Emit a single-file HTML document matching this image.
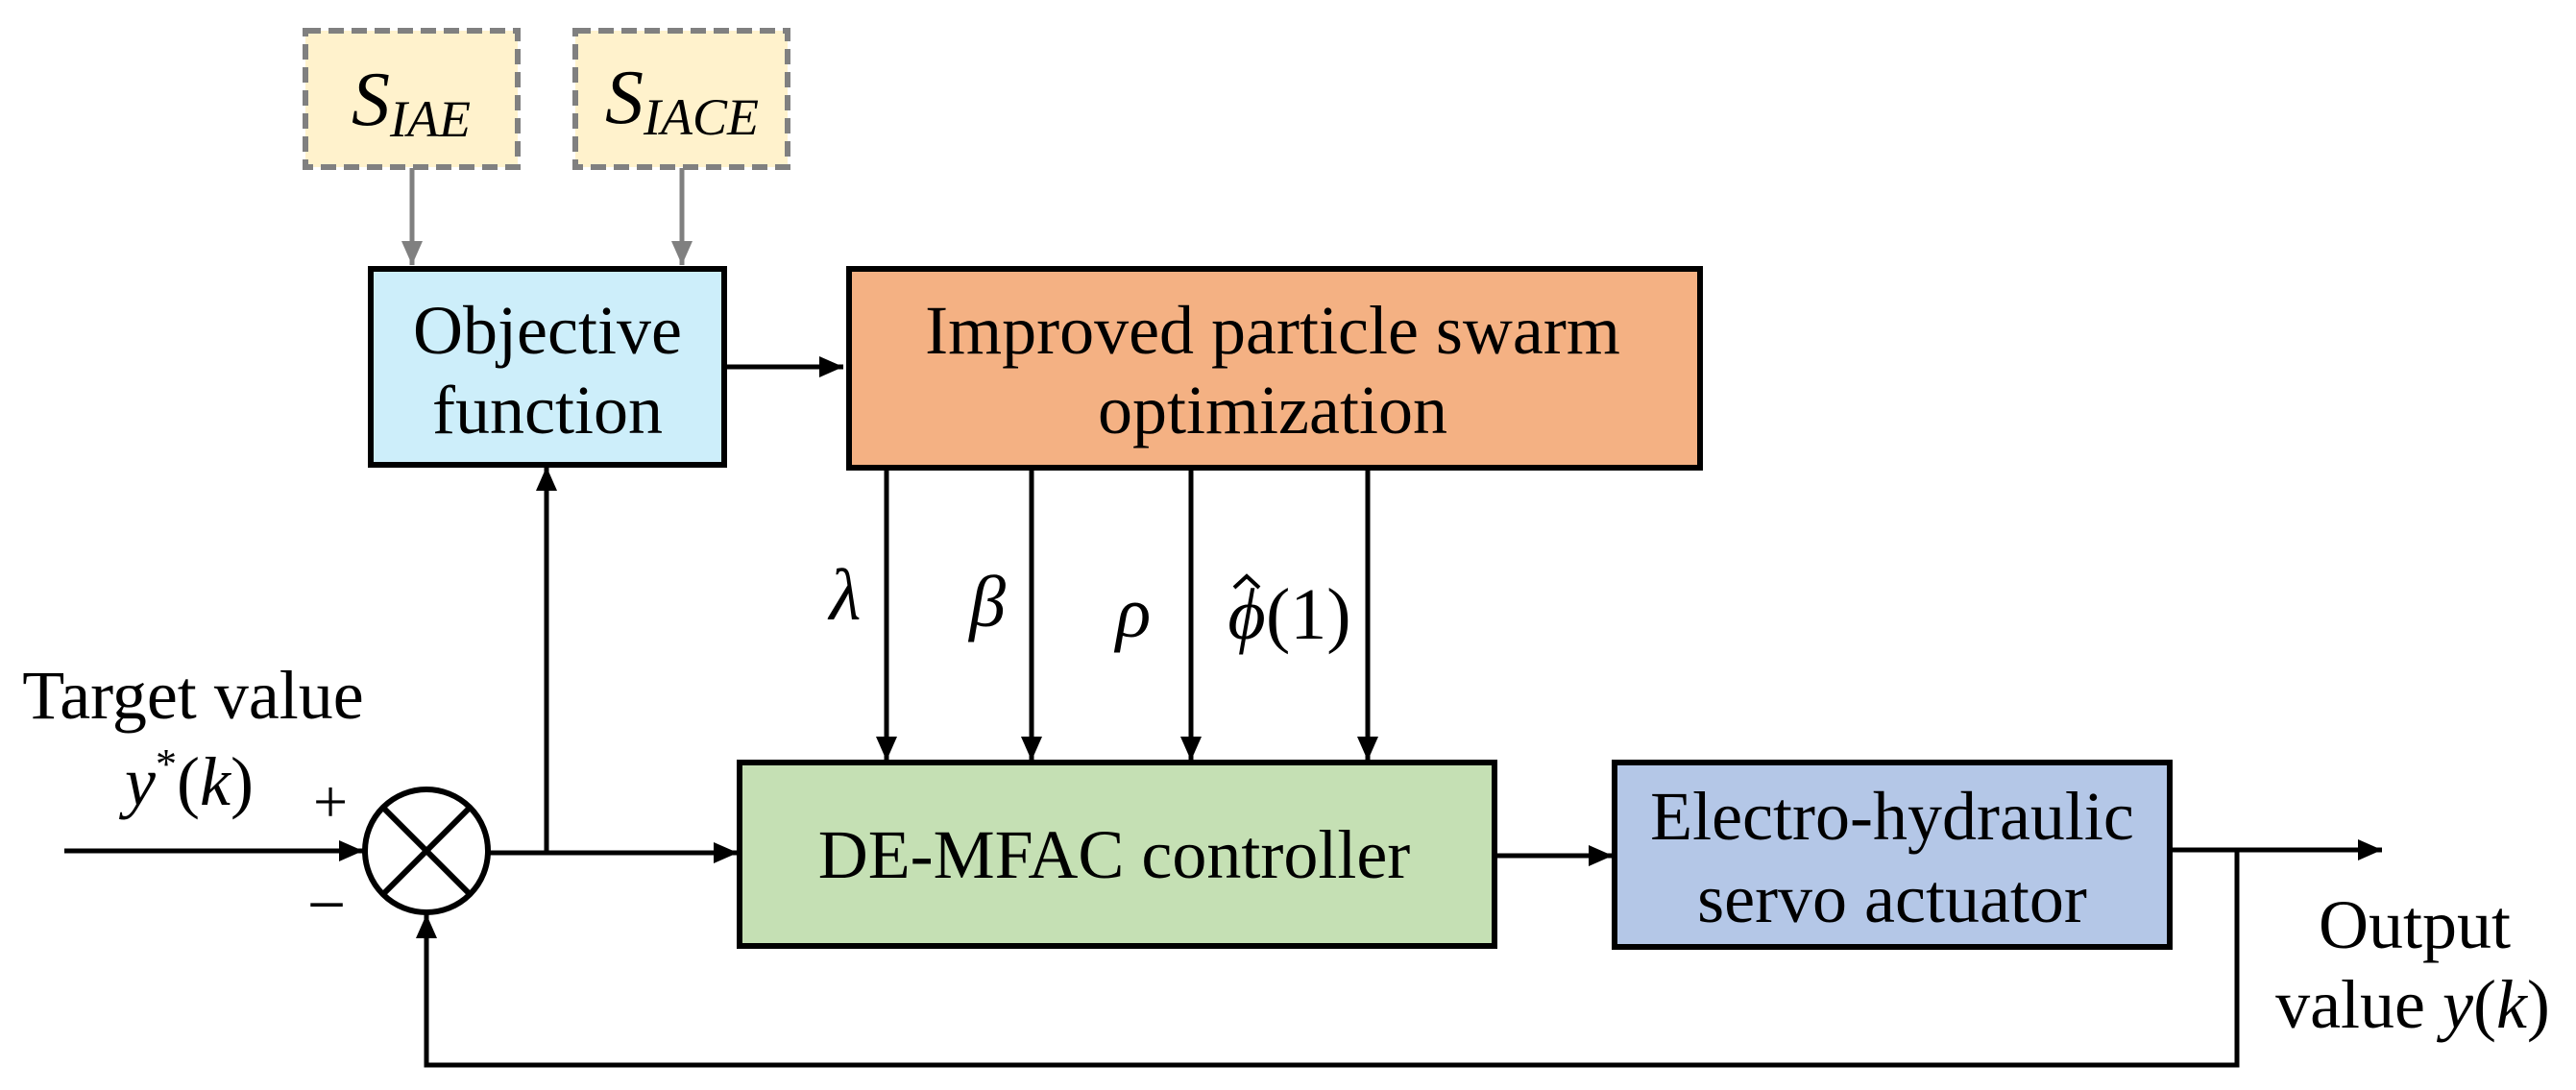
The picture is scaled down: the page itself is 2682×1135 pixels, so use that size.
<!DOCTYPE html>
<html><head><meta charset="utf-8"><style>
html,body{margin:0;padding:0;background:#fff;}
svg{display:block;}
text{font-family:"Liberation Serif",serif;fill:#000;}
.m{font-style:italic;}
</style></head><body>
<svg width="2682" height="1135" viewBox="0 0 2682 1135" xmlns="http://www.w3.org/2000/svg">
<defs>
<marker id="a" markerWidth="6" markerHeight="6" refX="5" refY="3" orient="auto" markerUnits="strokeWidth"><path d="M0,0.8 L5,3 L0,5.2 Z" fill="#000"/></marker>
<marker id="g" markerWidth="6" markerHeight="6" refX="5" refY="3" orient="auto" markerUnits="strokeWidth"><path d="M0,0.8 L5,3 L0,5.2 Z" fill="#808080"/></marker>
</defs>
<rect x="318" y="32" width="221" height="142" fill="#fff2cc" stroke="#808080" stroke-width="6" stroke-dasharray="16,8"/>
<rect x="599" y="32" width="221" height="142" fill="#fff2cc" stroke="#808080" stroke-width="6" stroke-dasharray="16,8"/>
<text x="428" y="130" font-size="80" text-anchor="middle" class="m">S<tspan font-size="54" dy="12">IAE</tspan></text>
<text x="710" y="128" font-size="80" text-anchor="middle" class="m">S<tspan font-size="54" dy="12">IACE</tspan></text>
<line x1="429" y1="175" x2="429" y2="276" stroke="#808080" stroke-width="5" marker-end="url(#g)"/>
<line x1="710" y1="175" x2="710" y2="276" stroke="#808080" stroke-width="5" marker-end="url(#g)"/>
<rect x="386" y="280" width="368" height="204" fill="#cdeefa" stroke="#000" stroke-width="6"/>
<text x="570" y="368" font-size="72" text-anchor="middle">Objective</text>
<text x="570" y="451" font-size="72" text-anchor="middle">function</text>
<line x1="754" y1="382" x2="878" y2="382" stroke="#000" stroke-width="5" marker-end="url(#a)"/>
<rect x="884" y="280" width="886" height="207" fill="#f4b183" stroke="#000" stroke-width="6"/>
<text x="1325" y="368" font-size="72" text-anchor="middle">Improved particle swarm</text>
<text x="1325" y="451" font-size="72" text-anchor="middle">optimization</text>
<g stroke="#000" stroke-width="5">
<line x1="923" y1="487" x2="923" y2="792" marker-end="url(#a)"/>
<line x1="1074" y1="487" x2="1074" y2="792" marker-end="url(#a)"/>
<line x1="1240" y1="487" x2="1240" y2="792" marker-end="url(#a)"/>
<line x1="1424" y1="487" x2="1424" y2="792" marker-end="url(#a)"/>
</g>
<text x="880" y="645" font-size="76" text-anchor="middle" class="m">λ</text>
<text x="1028" y="652" font-size="76" text-anchor="middle" class="m">β</text>
<text x="1180" y="663" font-size="76" text-anchor="middle" class="m">ρ</text>
<text x="1298" y="665" font-size="76" text-anchor="middle" class="m">ϕ</text>
<path d="M1285,612 L1298,600 L1311,612" stroke="#000" stroke-width="4" fill="none"/>
<text x="1318" y="665" font-size="76">(1)</text>
<rect x="770" y="794" width="786" height="191" fill="#c5e0b4" stroke="#000" stroke-width="6"/>
<text x="1160" y="914" font-size="72" text-anchor="middle">DE-MFAC controller</text>
<rect x="1681" y="794" width="578" height="192" fill="#b4c7e7" stroke="#000" stroke-width="6"/>
<text x="1970" y="874" font-size="72" text-anchor="middle">Electro-hydraulic</text>
<text x="1970" y="960" font-size="72" text-anchor="middle">servo actuator</text>
<circle cx="444" cy="886" r="64" fill="#fff" stroke="#000" stroke-width="6"/>
<line x1="399" y1="841" x2="489" y2="931" stroke="#000" stroke-width="6"/>
<line x1="489" y1="841" x2="399" y2="931" stroke="#000" stroke-width="6"/>
<g stroke="#000" stroke-width="5" fill="none">
<line x1="67" y1="886" x2="378" y2="886" marker-end="url(#a)"/>
<line x1="508" y1="888" x2="768" y2="888" marker-end="url(#a)"/>
<line x1="569" y1="888" x2="569" y2="486" marker-end="url(#a)"/>
<line x1="1556" y1="891" x2="1679" y2="891" marker-end="url(#a)"/>
<line x1="2259" y1="885" x2="2480" y2="885" marker-end="url(#a)"/>
<polyline points="2329,885 2329,1109 444,1109 444,952" marker-end="url(#a)"/>
</g>
<text x="201" y="748" font-size="72" text-anchor="middle">Target value</text>
<text x="197" y="838" font-size="72" text-anchor="middle"><tspan class="m">y</tspan><tspan font-size="44" dy="-28">*</tspan><tspan dy="28">(</tspan><tspan class="m">k</tspan>)</text>
<text x="344" y="856" font-size="64" text-anchor="middle">+</text>
<text x="340" y="966" font-size="72" text-anchor="middle">−</text>
<text x="2514" y="987" font-size="72" text-anchor="middle">Output</text>
<text x="2512" y="1070" font-size="72" text-anchor="middle">value <tspan class="m">y</tspan>(<tspan class="m">k</tspan>)</text>
</svg>
</body></html>
